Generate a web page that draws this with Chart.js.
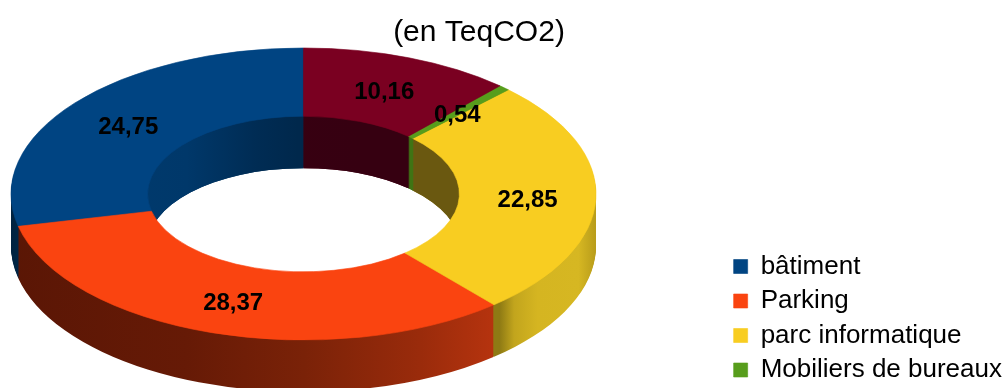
<!DOCTYPE html>
<html lang="fr">
<head>
<meta charset="utf-8">
<title>Emissions (en TeqCO2)</title>
<script src="https://cdn.jsdelivr.net/npm/chart.js@4.4.1/dist/chart.umd.min.js"></script>
<style>
  html, body { margin: 0; padding: 0; background: #fff; }
  body { width: 1002px; height: 388px; overflow: hidden; }
  #wrap { position: relative; width: 1012px; height: 426px; }
</style>
</head>
<body>
<div id="wrap"><canvas id="ring" width="1012" height="426"></canvas></div>
<script>
// Emission categories (legend order) and their values in TeqCO2
const categories = ["bâtiment", "Parking", "parc informatique", "Mobiliers de bureaux", "Déplacements"];
const emissions = [24.75, 28.37, 22.85, 0.54, 10.16];

// Top face colours, then outer / inner wall shading (stops across the ring width, left -> right)
const faceColors = ["#004482", "#fa4410", "#f8cd21", "#579d1c", "#7a0021"];
const outerWall = [
  [[0, "#00223f"], [0.06, "#00335e"], [1, "#00335e"]],
  [[0, "#5a1605"], [0.3, "#661a06"], [0.5, "#7a2208"], [0.7, "#9a2b0b"], [0.85, "#bb350f"], [1, "#c63c10"]],
  [[0, "#8e7a14"], [0.835, "#8e7a14"], [0.86, "#c2a51d"], [0.9, "#d5b521"], [0.97, "#d6b722"], [1, "#b89c1a"]],
  [[0, "#3a6a12"], [1, "#3a6a12"]],
  [[0, "#4a0014"], [1, "#4a0014"]]
];
const innerWall = [
  [[0, "#003d72"], [0.3, "#00386a"], [0.42, "#002c54"], [0.49, "#00284c"], [1, "#00284c"]],
  [[0, "#6a1c08"], [1, "#6a1c08"]],
  [[0, "#6a5810"], [1, "#6a5810"]],
  [[0, "#3f7414"], [1, "#3f7414"]],
  [[0, "#3a0012"], [0.6, "#360011"], [1, "#360011"]]
];

// Where the ring sits on the page and how thick it is
const ring = { cx: 303.5, cy: 194, rx: 292.5, ry: 146, depth: 52 };

const fmt = v => v.toFixed(2).replace(".", ",");

function ringTransform(chart) {
  const arc0 = chart.getDatasetMeta(0).data[0];
  const { x, y, outerRadius } = arc0.getProps(["x", "y", "outerRadius"]);
  return { x, y, R: outerRadius, sx: ring.rx / outerRadius, sy: ring.ry / outerRadius };
}

function wallGradient(ctx, t, stops) {
  // left edge of the drawn ring is x + R in the mirrored space
  const g = ctx.createLinearGradient(t.x + t.R, 0, t.x - t.R, 0);
  stops.forEach(([o, c]) => g.addColorStop(o, c));
  return g;
}

function drawWalls(ctx, arcs, t, shades) {
  const fills = shades.map(s => wallGradient(ctx, t, s));
  for (let d = ring.depth; d > 0; d -= 1) {
    const dy = d / t.sy;
    arcs.forEach((arc, i) => {
      const p = arc.getProps(["startAngle", "endAngle", "innerRadius", "outerRadius"]);
      ctx.beginPath();
      ctx.arc(t.x, t.y + dy, p.outerRadius, p.startAngle, p.endAngle);
      ctx.arc(t.x, t.y + dy, p.innerRadius, p.endAngle, p.startAngle, true);
      ctx.closePath();
      ctx.fillStyle = fills[i];
      ctx.fill();
    });
  }
}

const ring3d = {
  id: "ring3d",
  beforeDatasetsDraw(chart) {
    const ctx = chart.ctx;
    const t = ringTransform(chart);
    const arcs = chart.getDatasetMeta(0).data;
    ctx.save();
    // flatten the circle into an ellipse and mirror it so slices run anticlockwise
    ctx.translate(ring.cx, ring.cy);
    ctx.scale(-t.sx, t.sy);
    ctx.translate(-t.x, -t.y);
    drawWalls(ctx, arcs, t, outerWall);
    // inner wall seen through the hole
    const inner = arcs[0].getProps(["innerRadius"]).innerRadius;
    ctx.save();
    ctx.beginPath();
    ctx.arc(t.x, t.y, inner, 0, Math.PI * 2);
    ctx.clip();
    drawWalls(ctx, arcs, t, innerWall);
    ctx.restore();
    // leave the transform on: the library draws the top faces next
  },
  afterDatasetsDraw(chart) {
    const ctx = chart.ctx;
    ctx.restore();
    const t = ringTransform(chart);
    const ds = chart.data.datasets[0];
    ctx.save();
    ctx.fillStyle = "#000";
    ctx.font = 'bold 24px "Liberation Sans", Arial, sans-serif';
    ctx.textAlign = "center";
    ctx.textBaseline = "middle";
    chart.getDatasetMeta(0).data.forEach((arc, i) => {
      const p = arc.tooltipPosition();
      const px = ring.cx - (p.x - t.x) * t.sx;
      const py = ring.cy + (p.y - t.y) * t.sy;
      ctx.fillText(fmt(ds.data[i]), px, py + 3);
    });
    // unit caption above the ring
    ctx.font = '30px "Liberation Sans", Arial, sans-serif';
    ctx.textBaseline = "alphabetic";
    ctx.fillText("(en TeqCO2)", 479, 41);
    ctx.restore();
  }
};

Chart.defaults.font.family = '"Liberation Sans", Arial, sans-serif';
Chart.defaults.color = "#000";

new Chart(document.getElementById("ring"), {
  type: "doughnut",
  data: {
    labels: categories,
    datasets: [{
      data: emissions,
      backgroundColor: faceColors,
      borderColor: faceColors,
      borderWidth: 0.6,
      cutout: "53.3%"
    }]
  },
  options: {
    responsive: false,
    animation: false,
    events: [],
    layout: { padding: 0 },
    plugins: {
      tooltip: { enabled: false },
      legend: {
        position: "right",
        align: "end",
        labels: {
          font: { size: 26 },
          boxWidth: 14,
          boxHeight: 14,
          padding: 8.5,
          color: "#000"
        }
      }
    }
  },
  plugins: [ring3d]
});
</script>
</body>
</html>
